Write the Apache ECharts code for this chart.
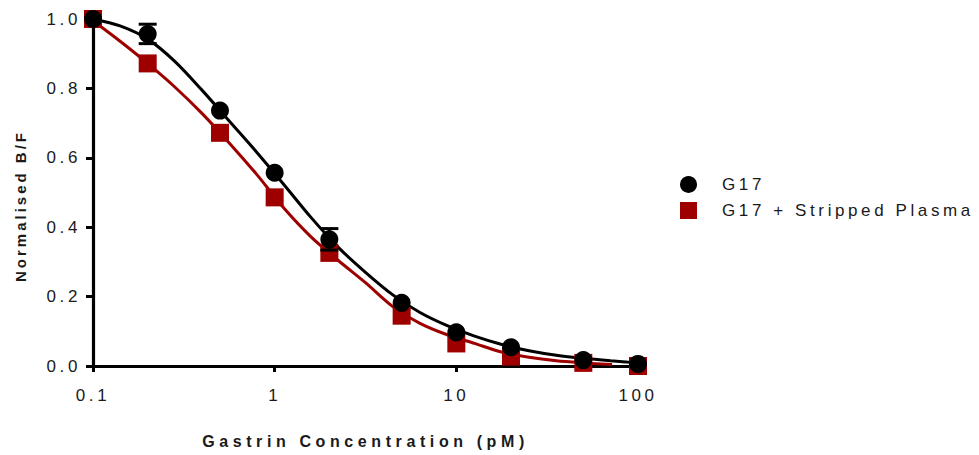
<!DOCTYPE html>
<html>
<head>
<meta charset="utf-8">
<script src="https://cdn.jsdelivr.net/npm/echarts@6/dist/echarts.min.js"></script>
<style>
  html, body { margin: 0; padding: 0; background: #fff; }
  #chart { width: 979px; height: 455px; }
  #chart text { letter-spacing: 3.6px; }
  #chart text[style*="bold"] { letter-spacing: 3px; }
  #chart text[style*="bold"][style*="16px"] { letter-spacing: 4.6px; }
</style>
</head>
<body>
<div id="chart"></div>
<script>
// Gastrin concentrations (pM) and normalised B/F responses
const concentrations = [0.1, 0.2, 0.5, 1, 2, 5, 10, 20, 50, 100];
const g17 = [1.0, 0.957, 0.736, 0.557, 0.365, 0.182, 0.097, 0.054, 0.017, 0.006];
const g17Err = [0, 0.028, 0, 0, 0.031, 0, 0, 0, 0, 0];
const g17Plasma = [1.0, 0.872, 0.672, 0.486, 0.326, 0.145, 0.065, 0.027, 0.009, 0.0];

// Fitted dose-response curves, sampled every 0.15 decade
const g17FitX = [0.1, 0.141, 0.2, 0.282, 0.398, 0.562, 0.794, 1.12, 1.58, 2.24, 3.16, 4.47, 6.31, 8.91, 12.6, 17.8, 25.1, 35.5, 50.1, 70.8, 100];
const g17FitY = [1.0, 0.980, 0.942, 0.878, 0.795, 0.706, 0.617, 0.524, 0.429, 0.342, 0.270, 0.205, 0.154, 0.116, 0.086, 0.062, 0.044, 0.031, 0.022, 0.015, 0.009];
const plasmaFitX = [0.1, 0.141, 0.2, 0.282, 0.398, 0.562, 0.794, 1.12, 1.58, 2.24, 3.16, 4.47, 6.31, 8.91, 12.6, 17.8, 25.1, 35.5, 50.1, 72];
const plasmaFitY = [0.995, 0.936, 0.872, 0.804, 0.728, 0.643, 0.553, 0.456, 0.373, 0.304, 0.240, 0.171, 0.123, 0.090, 0.065, 0.040, 0.025, 0.015, 0.009, 0.004];

const seriesNames = ['G17', 'G17 + Stripped Plasma'];
const xTitle = 'Gastrin Concentration (pM)';
const yTitle = 'Normalised B/F';

const RED = '#9e0000';
const INK = '#1a1a1a';
const FONT = '"Liberation Sans", Arial, sans-serif';

const pairs = (xs, ys) => xs.map((x, i) => [x, ys[i]]);

const chart = echarts.init(document.getElementById('chart'), null, { renderer: 'svg' });

chart.setOption({
  animation: false,
  backgroundColor: '#fff',
  grid: { left: 93, right: 341, top: 19, bottom: 89, containLabel: false },
  xAxis: {
    type: 'log',
    logBase: 10,
    min: 0.1,
    max: 100,
    name: xTitle,
    nameLocation: 'middle',
    nameGap: 67,
    nameTextStyle: { fontFamily: FONT, fontSize: 16, fontWeight: 'bold', color: INK },
    axisLine: { lineStyle: { color: '#000', width: 3.2 } },
    axisTick: { length: 6, lineStyle: { color: '#000', width: 3 } },
    axisLabel: { margin: 21, fontFamily: FONT, fontSize: 17, color: INK, formatter: v => String(v) },
    splitLine: { show: false },
    minorTick: { show: false }
  },
  yAxis: {
    type: 'value',
    min: 0,
    max: 1,
    interval: 0.2,
    axisLine: { show: true, lineStyle: { color: '#000', width: 3.2 } },
    axisTick: { show: true, length: 7, lineStyle: { color: '#000', width: 3 } },
    axisLabel: { margin: 12, fontFamily: FONT, fontSize: 17, color: INK, formatter: v => v.toFixed(1) },
    splitLine: { show: false }
  },
  graphic: [{
    type: 'text',
    x: 20,
    y: 206,
    rotation: Math.PI / 2,
    style: {
      text: yTitle,
      fontFamily: FONT,
      fontSize: 15,
      fontWeight: 'bold',
      fill: INK,
      align: 'center',
      verticalAlign: 'middle'
    }
  }],
  legend: {
    orient: 'vertical',
    left: 675,
    top: 171,
    itemWidth: 17,
    itemHeight: 17,
    itemGap: 9,
    data: [
      { name: seriesNames[0], icon: 'circle' },
      { name: seriesNames[1], icon: 'rect' }
    ],
    textStyle: { fontFamily: FONT, fontSize: 17, color: INK, padding: [0, 0, 0, 20] }
  },
  series: [
    {
      name: 'plasmaFit',
      type: 'line',
      data: pairs(plasmaFitX, plasmaFitY),
      smooth: 0.3,
      showSymbol: false,
      symbol: 'none',
      lineStyle: { color: RED, width: 3 },
      z: 2,
      silent: true
    },
    {
      name: 'g17Fit',
      type: 'line',
      data: pairs(g17FitX, g17FitY),
      smooth: 0.3,
      showSymbol: false,
      symbol: 'none',
      lineStyle: { color: '#000', width: 3 },
      z: 3,
      silent: true
    },
    {
      name: seriesNames[1],
      type: 'scatter',
      symbol: 'rect',
      symbolSize: 18,
      itemStyle: { color: RED, opacity: 1 },
      data: pairs(concentrations, g17Plasma),
      z: 4
    },
    {
      name: seriesNames[0],
      type: 'scatter',
      symbol: 'circle',
      symbolSize: 18,
      itemStyle: { color: '#000', opacity: 1 },
      data: pairs(concentrations, g17),
      z: 5
    },
    {
      name: 'g17Error',
      type: 'custom',
      z: 6,
      silent: true,
      data: concentrations.map((c, i) => [c, g17[i], g17Err[i]]).filter(d => d[2] > 0),
      renderItem: (params, api) => {
        const x = api.value(0), y = api.value(1), e = api.value(2);
        const top = api.coord([x, y + e]);
        const bot = api.coord([x, y - e]);
        const hw = 9;
        const style = { stroke: '#000', lineWidth: 3 };
        return {
          type: 'group',
          children: [
            { type: 'line', shape: { x1: top[0], y1: top[1], x2: bot[0], y2: bot[1] }, style },
            { type: 'line', shape: { x1: top[0] - hw, y1: top[1], x2: top[0] + hw, y2: top[1] }, style },
            { type: 'line', shape: { x1: bot[0] - hw, y1: bot[1], x2: bot[0] + hw, y2: bot[1] }, style }
          ]
        };
      }
    }
  ]
});
</script>
</body>
</html>
